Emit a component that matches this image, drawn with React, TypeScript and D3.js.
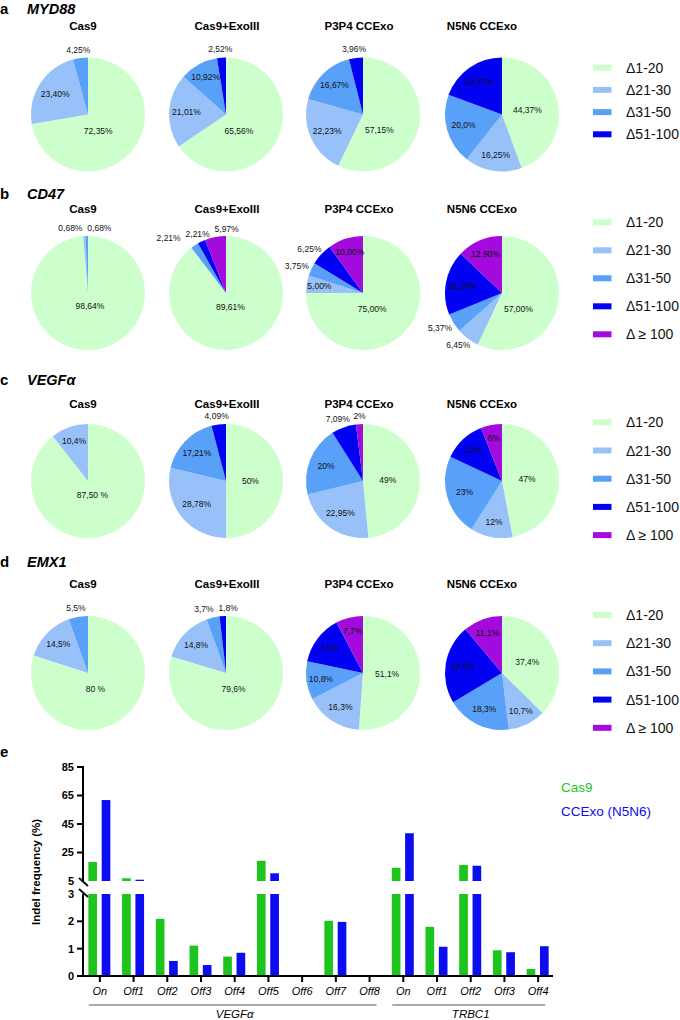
import React, { useEffect } from "react";
import * as d3 from "d3";

const FONT = "'Liberation Sans', Arial, Helvetica, sans-serif";

// ---------------- DATA ----------------
const panelLetters = ["a", "b", "c", "d"];
const genes = ["MYD88", "CD47", "VEGFα", "EMX1"];
const samples = ["Cas9", "Cas9+ExoIII", "P3P4 CCExo", "N5N6 CCExo"];
const sizeClasses = ["Δ1-20", "Δ21-30", "Δ31-50", "Δ51-100", "Δ ≥ 100"];

const myd88Values = [
  [72.35, 23.4, 4.25, 0],
  [65.56, 21.01, 10.92, 2.52],
  [57.15, 22.23, 16.67, 3.96],
  [44.37, 16.25, 20.0, 19.37],
];
const myd88Labels = [
  ["72,35%", "23,40%", "4,25%", ""],
  ["65,56%", "21,01%", "10,92%", "2,52%"],
  ["57,15%", "22,23%", "16,67%", "3,96%"],
  ["44,37%", "16,25%", "20,0%", "19,37%"],
];
const cd47Values = [
  [98.64, 0.68, 0.68, 0, 0],
  [89.61, 0, 2.21, 2.21, 5.97],
  [75.0, 5.0, 3.75, 6.25, 10.0],
  [57.0, 6.45, 5.37, 18.28, 12.9],
];
const cd47Labels = [
  ["98,64%", "0,68%", "0,68%", "", ""],
  ["89,61%", "", "2,21%", "2,21%", "5,97%"],
  ["75,00%", "5,00%", "3,75%", "6,25%", "10,00%"],
  ["57,00%", "6,45%", "5,37%", "18,28%", "12,90%"],
];
const vegfValues = [
  [87.5, 10.4, 0, 0, 0],
  [50, 28.78, 17.21, 4.09, 0],
  [49, 22.95, 20, 7.09, 2],
  [47, 12, 23, 12, 6],
];
const vegfLabels = [
  ["87,50 %", "10,4%", "", "", ""],
  ["50%", "28,78%", "17,21%", "4,09%", ""],
  ["49%", "22,95%", "20%", "7,09%", "2%"],
  ["47%", "12%", "23%", "12%", "6%"],
];
const emx1Values = [
  [80, 14.5, 5.5, 0, 0],
  [79.6, 14.8, 3.7, 1.8, 0],
  [51.1, 16.3, 10.8, 14, 7.7],
  [37.4, 10.7, 18.3, 22.5, 11.1],
];
const emx1Labels = [
  ["80 %", "14,5%", "5,5%", "", ""],
  ["79,6%", "14,8%", "3,7%", "1,8%", ""],
  ["51,1%", "16,3%", "10,8%", "14%", "7,7%"],
  ["37,4%", "10,7%", "18,3%", "22,5%", "11,1%"],
];

// bar chart (panel e)
const vegfSites = ["On", "Off1", "Off2", "Off3", "Off4", "Off5", "Off6", "Off7", "Off8"];
const trbc1Sites = ["On", "Off1", "Off2", "Off3", "Off4"];
const targetGenes = ["VEGFα", "TRBC1"];
const seriesNames = ["Cas9", "CCExo (N5N6)"];
const cas9Vegf = [18.3, 6.9, 2.09, 1.11, 0.71, 19.2, 0, 2.02, 0];
const ccexoVegf = [61.8, 5.9, 0.55, 0.4, 0.85, 10.4, 0, 1.98, 0];
const cas9Trbc1 = [14.3, 1.8, 16.2, 0.94, 0.26];
const ccexoTrbc1 = [38.5, 1.07, 15.7, 0.87, 1.09];
const yTicksLow = [0, 1, 2, 3];
const yTicksHigh = [5, 25, 45, 65, 85];

// ---------------- LAYOUT / STYLE ----------------
const pieColors = ["#ccffcc", "#98c1f9", "#58a0f8", "#0202f2", "#a20ade"];
const seriesColors = ["#1ec41e", "#0c0cf0"];
const R = 57;
const colX = [88, 226, 363, 502];
const titleX = [83, 227, 359, 482];
const rowCY = [114.5, 293, 481, 673];
const rowTitleY = [30, 213, 408, 588];
const rowLetterY = [14, 199, 385, 567];
const legendStartY = [67.7, 222.3, 422.3, 615];
const legendStep = [22.2, 28, 28.2, 28.2];
const legendCount = [4, 5, 5, 5];
// which slice labels are drawn outside the pie
const outsideIdx = [
  [[2], [3], [3], []],
  [[1, 2], [2, 3, 4], [2, 3], [1, 2]],
  [[], [3], [3, 4], []],
  [[2], [2, 3], [], []],
];

const allValues = [myd88Values, cd47Values, vegfValues, emx1Values];
const allLabels = [myd88Labels, cd47Labels, vegfLabels, emx1Labels];

type Lab = { x: number; y: number; text: string; out: boolean; w: number };

function Pie({ cx, cy, values, labels, outside }: { cx: number; cy: number; values: number[]; labels: string[]; outside: number[] }) {
  const pie = d3.pie<number>().sort(null).value((d) => d);
  const arcs = pie(values);
  const total = d3.sum(values);
  const arcGen = d3.arc<d3.PieArcDatum<number>>().innerRadius(0).outerRadius(R);
  const labs: Lab[] = [];
  arcs.forEach((a, i) => {
    const text = labels[i];
    if (!text) return;
    const f = a.value / total;
    let mid = (a.startAngle + a.endAngle) / 2;
    const w = text.length * 4.8;
    const out = outside.includes(i);
    if (out) {
      const sx = Math.sin(mid), sy = -Math.cos(mid);
      const rho = R + 4;
      labs.push({ x: rho * sx + (w / 2) * sx, y: rho * sy + 4.5 * sy, text, out, w });
    } else {
      let rho: number;
      if (f < 0.35) rho = R * (0.8 - 0.5 * f);
      else rho = R * (0.47 - (0.25 * (f - 0.4)) / 0.6);
      if (f > 0.55) {
        const deg = (mid * 180) / Math.PI;
        mid = ((deg + (165 - deg) * 0.5) * Math.PI) / 180;
      }
      labs.push({ x: rho * Math.sin(mid), y: -rho * Math.cos(mid), text, out, w });
    }
  });
  // simple collision sweep for outside labels
  const outs = labs.filter((l) => l.out).sort((a, b) => a.x - b.x);
  if (outs.length > 1) {
    const orig = d3.mean(outs, (l) => l.x)!;
    let moved = false;
    for (let i = 1; i < outs.length; i++) {
      const p = outs[i - 1], c = outs[i];
      const minDx = (p.w + c.w) / 2 + 5;
      if (Math.abs(c.y - p.y) < 10 && c.x - p.x < minDx) {
        c.x = p.x + minDx;
        moved = true;
      }
    }
    if (moved) {
      const shift = orig - d3.mean(outs, (l) => l.x)!;
      outs.forEach((l) => (l.x += shift));
    }
  }
  return (
    <g transform={`translate(${cx},${cy})`}>
      {arcs.map((a, i) => (
        <path key={i} d={arcGen(a) || ""} fill={pieColors[i]} />
      ))}
      {labs.map((l, i) => (
        <text key={i} x={l.x} y={l.y} dy="0.35em" textAnchor="middle" fontSize={8.5} fill="#111">
          {l.text}
        </text>
      ))}
    </g>
  );
}

function BarChart() {
  const keys = [...vegfSites.map((s) => "V:" + s), ...trbc1Sites.map((s) => "T:" + s)];
  const siteLabels = [...vegfSites, ...trbc1Sites];
  const cas9 = [...cas9Vegf, ...cas9Trbc1];
  const ccexo = [...ccexoVegf, ...ccexoTrbc1];
  const x = d3.scaleBand<string>().domain(keys).range([83, 555]);
  const xc = (k: string) => (x(k) as number) + x.bandwidth() / 2;
  const xSub = d3.scaleBand<string>().domain(seriesNames).range([-11.5, 10.5]).paddingInner(0.35);
  const yLow = d3.scaleLinear().domain([0, 3]).range([976, 894]);
  const yHigh = d3.scaleLinear().domain([5, 85]).range([881, 767]);
  const axisX = 83;
  const bars: JSX.Element[] = [];
  keys.forEach((k, i) => {
    [cas9[i], ccexo[i]].forEach((v, s) => {
      if (v <= 0) return;
      const bx = xc(k) + (xSub(seriesNames[s]) as number);
      const bw = xSub.bandwidth();
      const lt = yLow(Math.min(v, 3));
      bars.push(<rect key={`${k}-${s}-l`} x={bx} y={lt} width={bw} height={yLow(0) - lt} fill={seriesColors[s]} />);
      if (v > 5) {
        const ht = yHigh(v);
        bars.push(<rect key={`${k}-${s}-h`} x={bx} y={ht} width={bw} height={yHigh(5) - ht} fill={seriesColors[s]} />);
      }
    });
  });
  const vKeys = keys.slice(0, vegfSites.length);
  const tKeys = keys.slice(vegfSites.length);
  const groups = [vKeys, tKeys];
  return (
    <g fontFamily={FONT}>
      {bars}
      {/* y axis */}
      <line x1={axisX} x2={axisX} y1={yHigh(85) - 1} y2={yHigh(5)} stroke="#000" strokeWidth={2} />
      <line x1={axisX} x2={axisX} y1={yLow(3)} y2={yLow(0) + 1} stroke="#000" strokeWidth={2} />
      {[yHigh(5) + 1, yLow(3) - 1].map((yy, i) => (
        <line key={i} x1={axisX - 4} y1={yy - 4} x2={axisX + 5} y2={yy + 4} stroke="#000" strokeWidth={1.8} />
      ))}
      {yTicksHigh.map((t) => (
        <g key={"h" + t}>
          {t !== 5 && <line x1={axisX - 6} x2={axisX} y1={yHigh(t)} y2={yHigh(t)} stroke="#000" strokeWidth={2} />}
          <text x={axisX - 9} y={yHigh(t)} dy="0.35em" textAnchor="end" fontSize={11} fontWeight="bold">
            {t}
          </text>
        </g>
      ))}
      {yTicksLow.map((t) => (
        <g key={"l" + t}>
          {t !== 3 && <line x1={axisX - 6} x2={axisX} y1={yLow(t)} y2={yLow(t)} stroke="#000" strokeWidth={2} />}
          <text x={axisX - 9} y={yLow(t)} dy="0.35em" textAnchor="end" fontSize={11} fontWeight="bold">
            {t}
          </text>
        </g>
      ))}
      <text transform={`translate(40,872) rotate(-90)`} textAnchor="middle" fontSize={11.5} fontWeight="bold">
        Indel frequency (%)
      </text>
      {/* x axis */}
      <line x1={axisX - 1} x2={553} y1={yLow(0)} y2={yLow(0)} stroke="#000" strokeWidth={2} />
      {keys.map((k, i) => (
        <g key={"xt" + k}>
          <line x1={xc(k)} x2={xc(k)} y1={yLow(0)} y2={yLow(0) + 6} stroke="#000" strokeWidth={2} />
          <text x={xc(k)} y={995} textAnchor="middle" fontSize={11} fontStyle="italic">
            {siteLabels[i]}
          </text>
        </g>
      ))}
      {groups.map((g, gi) => {
        const x1 = xc(g[0]) - 11;
        const x2 = xc(g[g.length - 1]) + 7;
        return (
          <g key={"grp" + gi}>
            <line x1={x1} x2={x2} y1={1005} y2={1005} stroke="#555" strokeWidth={1} />
            <text x={(xc(g[0]) + xc(g[g.length - 1])) / 2} y={1018} textAnchor="middle" fontSize={11.5} fontStyle="italic">
              {targetGenes[gi]}
            </text>
          </g>
        );
      })}
      {/* legend */}
      {seriesNames.map((s, i) => (
        <text key={s} x={561} y={792 + i * 24} fontSize={13.5} fill={seriesColors[i]}>
          {s}
        </text>
      ))}
    </g>
  );
}

export default function App() {
  useEffect(() => {
    document.body.style.margin = "0";
  }, []);
  return (
    <svg width={680} height={1020} viewBox="0 0 680 1020" style={{ display: "block", background: "#fff" }} fontFamily={FONT}>
      <rect x={0} y={0} width={680} height={1020} fill="#fff" />
      {genes.map((g, ri) => (
        <g key={g}>
          <text x={0} y={rowLetterY[ri]} fontSize={15} fontWeight="bold">
            {panelLetters[ri]}
          </text>
          <text x={27} y={rowLetterY[ri]} fontSize={14.5} fontWeight="bold" fontStyle="italic">
            {g}
          </text>
          {samples.map((s, ci) => (
            <g key={s}>
              <text x={titleX[ci]} y={rowTitleY[ri]} textAnchor="middle" fontSize={11.5} fontWeight="bold">
                {s}
              </text>
              <Pie cx={colX[ci]} cy={rowCY[ri]} values={allValues[ri][ci]} labels={allLabels[ri][ci]} outside={outsideIdx[ri][ci]} />
            </g>
          ))}
          {sizeClasses.slice(0, legendCount[ri]).map((c, li) => {
            const yy = legendStartY[ri] + li * legendStep[ri];
            return (
              <g key={c}>
                <rect x={593} y={yy - 3} width={18.5} height={6} fill={pieColors[li]} />
                <text x={626} y={yy} dy="0.36em" fontSize={14} fill="#111">
                  {c}
                </text>
              </g>
            );
          })}
        </g>
      ))}
      <text x={0} y={757} fontSize={15} fontWeight="bold">
        e
      </text>
      <BarChart />
    </svg>
  );
}
